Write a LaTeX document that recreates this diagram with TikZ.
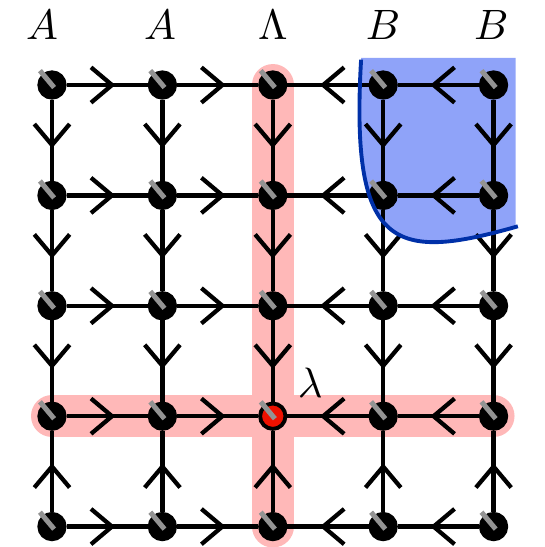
\documentclass[tikz,border=0pt]{standalone}
\usetikzlibrary{arrows.meta,decorations.markings}
\definecolor{band-pink}{HTML}{FFB8B8}
\definecolor{region-blue}{HTML}{8FA3F9}
\definecolor{edge-blue}{HTML}{0030A8}
\definecolor{site-red}{HTML}{EE1100}

\begin{document}
\begin{tikzpicture}[
      every node/.style={font=\fontsize{11}{13}\selectfont},
      site/.style={circle, draw=black, line width=1pt, inner sep=0pt,
                   minimum size=0.23cm},
      link/.style={line width=1.1pt, postaction={decorate},
                   decoration={markings, mark=at position 0.6 with
                   {\arrow{Straight Barb[length=1.9mm, width=3.2mm]}}}},
      spin/.style={draw=gray!85, line width=1.3pt},
      band/.style={band-pink, line width=0.38cm, line cap=round}]
    \useasboundingbox (-0.471,-0.185) rectangle (4.457,4.770);
    % highlighted cross and region
    \draw[band] (2,4) -- (2,0);
    \draw[band] (0,1) -- (4,1);
    \fill[region-blue] (2.8,4.245) .. controls (2.7,2.5) and (3.1,2.4) .. (4.2,2.72)
        -- (4.2,4.245) -- cycle;
    % sites
    \foreach \i in {0,...,4}
      \foreach \j in {0,...,4} {
        \ifnum\i\j=21 \def\sitecol{site-red}\else\def\sitecol{black}\fi
        \node[site, fill=\sitecol] (n-\i-\j) at (\i,\j) {};
      }
    % horizontal links, pointing to the middle column
    \foreach \j in {0,...,4} {
      \draw[link] (n-0-\j) -- (n-1-\j);
      \draw[link] (n-1-\j) -- (n-2-\j);
      \draw[link] (n-3-\j) -- (n-2-\j);
      \draw[link] (n-4-\j) -- (n-3-\j);
    }
    % vertical links, pointing to the lambda row
    \foreach \i in {0,...,4} {
      \draw[link] (n-\i-4) -- (n-\i-3);
      \draw[link] (n-\i-3) -- (n-\i-2);
      \draw[link] (n-\i-2) -- (n-\i-1);
      \draw[link] (n-\i-0) -- (n-\i-1);
    }
    \foreach \i in {0,...,4}
      \foreach \j in {0,...,4}
        \draw[spin] ([shift={(310:0.03)}]n-\i-\j.center) -- ++(130:0.2);
    \draw[edge-blue, line width=1pt] (2.8,4.23) .. controls (2.7,2.5) and (3.1,2.4) .. (4.22,2.72);
    % labels
    \node (lab-a1) at (-0.09,4.543) {$A$};
    \node (lab-a2) at (0.98,4.543) {$A$};
    \node (lab-l) at (2.0,4.543) {$\Lambda$};
    \node (lab-b1) at (3.0,4.543) {$B$};
    \node (lab-b2) at (3.98,4.543) {$B$};
    \node (lam) at (2.34,1.30) {$\lambda$};
  \end{tikzpicture}
\end{document}
